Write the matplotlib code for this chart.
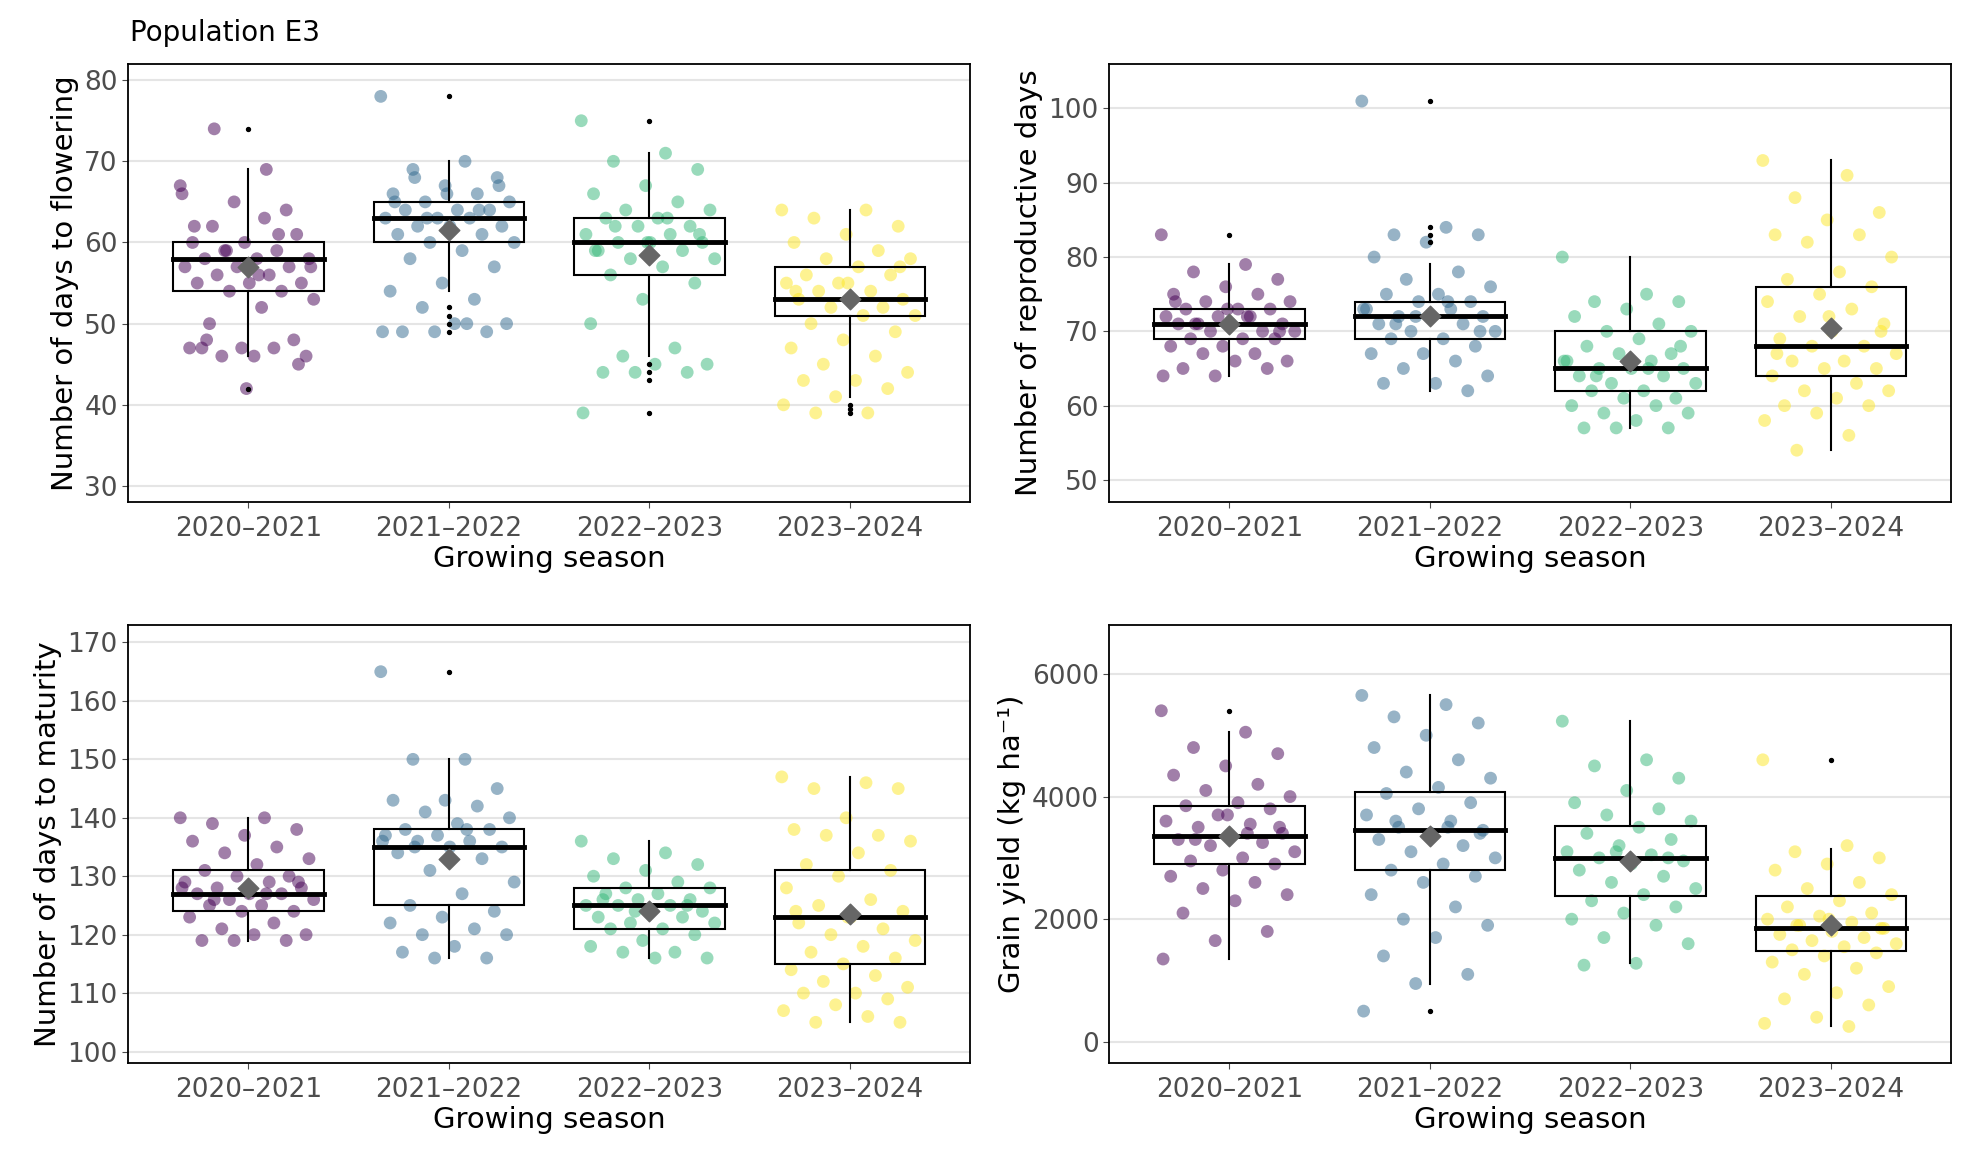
import numpy as np
import matplotlib.pyplot as plt

seasons = ["2020\u20132021", "2021\u20132022", "2022\u20132023", "2023\u20132024"]
colors = ["#440154", "#31688e", "#35b779", "#fde725"]

# ---- point values ----
flower_pts = [
    [67, 63, 62, 61, 60, 60, 59, 59, 58, 58, 58, 57, 57, 57, 56, 56, 55, 55, 55, 54, 54, 53, 52, 50, 48, 47, 47, 47, 46, 46, 46, 47, 64, 65, 66, 69, 74, 45, 42, 62, 61, 59, 57, 56, 48],
    [78, 70, 69, 68, 67, 66, 66, 65, 65, 64, 64, 64, 63, 63, 63, 62, 62, 62, 61, 61, 60, 60, 59, 58, 57, 55, 54, 53, 52, 50, 50, 49, 49, 49, 49, 50, 68, 67, 66, 65, 64, 63],
    [75, 71, 70, 69, 67, 66, 65, 64, 64, 63, 63, 62, 62, 61, 61, 60, 60, 60, 59, 59, 58, 58, 57, 56, 55, 53, 50, 47, 46, 45, 45, 44, 44, 44, 39, 63, 62, 61, 60, 59],
    [64, 64, 63, 62, 61, 60, 59, 58, 58, 57, 56, 56, 55, 55, 54, 54, 53, 53, 53, 52, 52, 51, 51, 50, 49, 48, 47, 46, 45, 44, 43, 43, 42, 41, 40, 39, 39, 57, 55, 54],
]
flower_box = [  # whisker low, q1, median, q3, whisker high, mean
    [46, 54, 58, 60, 69, 57], [54, 60, 63, 65, 70, 61.5],
    [46, 56, 60, 63, 71, 58.5], [41, 51, 53, 57, 64, 53]]
flower_out = [[74, 42], [78, 52, 51, 50, 49], [75, 45, 44, 43, 39], [40, 39.5, 39]]

repro_pts = [
    [83, 79, 78, 77, 76, 75, 75, 74, 74, 73, 73, 73, 72, 72, 72, 71, 71, 71, 71, 70, 70, 70, 69, 69, 69, 68, 68, 67, 67, 66, 66, 65, 65, 64, 64, 72, 71, 70, 73, 74],
    [101, 84, 83, 83, 82, 80, 78, 77, 76, 75, 75, 74, 74, 73, 73, 72, 72, 72, 71, 71, 70, 70, 69, 69, 68, 67, 67, 66, 65, 64, 63, 63, 62, 72, 73, 74, 71, 70],
    [80, 75, 74, 74, 73, 72, 71, 70, 70, 69, 68, 67, 67, 66, 66, 65, 65, 65, 64, 64, 63, 63, 62, 62, 61, 61, 60, 60, 59, 59, 58, 57, 57, 57, 66, 65, 64, 68],
    [93, 91, 88, 86, 85, 83, 83, 82, 80, 78, 77, 76, 75, 74, 73, 72, 71, 70, 69, 68, 68, 67, 66, 66, 65, 65, 64, 63, 62, 62, 61, 60, 60, 59, 58, 56, 54, 70, 72, 67],
]
repro_box = [
    [64, 69, 71, 73, 79, 71], [62, 69, 72, 74, 79, 72],
    [57, 62, 65, 70, 80, 66], [54, 64, 68, 76, 93, 70.5]]
repro_out = [[83], [101, 84, 83, 82], [], []]

mat_pts = [
    [140, 140, 139, 138, 137, 136, 135, 134, 133, 132, 131, 130, 130, 129, 129, 128, 128, 127, 127, 127, 126, 126, 125, 125, 124, 124, 123, 122, 121, 120, 120, 119, 119, 119, 128, 127, 126, 129],
    [165, 150, 150, 145, 143, 143, 142, 141, 140, 139, 138, 138, 137, 137, 136, 136, 135, 135, 134, 133, 131, 129, 127, 125, 124, 123, 122, 121, 120, 120, 118, 117, 116, 116, 136, 138, 135],
    [136, 134, 133, 132, 131, 130, 129, 128, 128, 127, 127, 126, 126, 125, 125, 125, 124, 124, 123, 123, 122, 122, 121, 121, 120, 119, 118, 117, 117, 116, 116, 126, 125, 124],
    [147, 146, 145, 145, 140, 138, 137, 137, 136, 134, 132, 131, 130, 128, 126, 125, 124, 123, 122, 121, 120, 119, 118, 117, 116, 115, 114, 113, 112, 111, 110, 110, 109, 108, 107, 106, 105, 105, 123, 124],
]
mat_box = [
    [119, 124, 127, 131, 140, 128], [116, 125, 135, 138, 150, 133],
    [116, 121, 125, 128, 136, 124], [105, 115, 123, 131, 147, 123.5]]
mat_out = [[], [165], [], []]

yield_pts = [
    [5400, 5050, 4800, 4700, 4500, 4350, 4200, 4100, 4000, 3900, 3850, 3800, 3700, 3600, 3550, 3500, 3400, 3350, 3300, 3250, 3200, 3100, 3000, 2950, 2900, 2800, 2700, 2600, 2500, 2400, 2300, 2100, 1800, 1650, 1350, 3400, 3300, 3500, 3700],
    [5650, 5500, 5300, 5200, 5000, 4800, 4600, 4400, 4300, 4150, 4050, 3900, 3800, 3700, 3600, 3500, 3450, 3400, 3300, 3200, 3100, 3000, 2900, 2800, 2700, 2600, 2400, 2200, 2000, 1900, 1700, 1400, 1100, 950, 500, 3500, 3600, 3400],
    [5230, 4600, 4500, 4300, 4100, 3900, 3800, 3700, 3600, 3500, 3400, 3300, 3200, 3100, 3050, 3000, 2950, 2900, 2800, 2700, 2600, 2500, 2400, 2300, 2200, 2100, 2000, 1900, 1700, 1600, 1280, 1250, 3000, 3100],
    [4600, 3200, 3100, 3000, 2900, 2800, 2600, 2500, 2400, 2300, 2200, 2100, 2050, 2000, 1950, 1900, 1850, 1800, 1750, 1700, 1650, 1600, 1550, 1500, 1450, 1400, 1300, 1200, 1100, 900, 800, 700, 600, 400, 300, 250, 1900, 1850, 2000],
]
yield_box = [
    [1350, 2900, 3350, 3850, 5050, 3350], [950, 2800, 3450, 4080, 5650, 3350],
    [1280, 2380, 3000, 3520, 5230, 2950], [250, 1480, 1850, 2380, 3150, 1900]]
yield_out = [[5400], [500], [], [4600]]

panels = [
    (flower_pts, flower_box, flower_out, "Number of days to flowering", (28, 82), np.arange(30, 81, 10)),
    (repro_pts, repro_box, repro_out, "Number of reproductive days", (47, 106), np.arange(50, 101, 10)),
    (mat_pts, mat_box, mat_out, "Number of days to maturity", (98, 173), np.arange(100, 171, 10)),
    (yield_pts, yield_box, yield_out, "Grain yield (kg ha\u207b\u00b9)", (-350, 6800), np.arange(0, 6001, 2000)),
]

fig, axes = plt.subplots(2, 2, figsize=(19.71, 11.62), dpi=100)
plt.subplots_adjust(left=0.065, right=0.99, top=0.945, bottom=0.085, wspace=0.165, hspace=0.28)

for ax, (pts, box, out, ylab, ylim, ticks) in zip(axes.flat, panels):
    for i, (vals, b, o) in enumerate(zip(pts, box, out)):
        n = len(vals)
        jit = ((np.arange(n) * 0.6180339) % 1 - 0.5) * 0.68
        ax.scatter(i + jit, vals, s=85, color=colors[i], alpha=0.5, edgecolors="none", zorder=2)
        wl, q1, med, q3, wh, mean = b
        ax.plot([i, i], [wl, q1], color="black", lw=1.5, zorder=3)
        ax.plot([i, i], [q3, wh], color="black", lw=1.5, zorder=3)
        ax.add_patch(plt.Rectangle((i - 0.375, q1), 0.75, q3 - q1, fill=False,
                                   edgecolor="black", lw=1.5, zorder=3))
        ax.plot([i - 0.375, i + 0.375], [med, med], color="black", lw=3.5, zorder=3)
        ax.scatter([i] * len(o), o, s=8, color="black", zorder=4)
        ax.scatter([i], [mean], marker="D", s=110, color="#666666", zorder=5)
    ax.set_xlim(-0.6, 3.6)
    ax.set_ylim(*ylim)
    ax.set_yticks(ticks)
    ax.set_xticks(range(4))
    ax.set_xticklabels(seasons)
    ax.tick_params(labelsize=19, colors="#4d4d4d", length=4)
    ax.tick_params(axis="x", pad=6)
    ax.set_ylabel(ylab, fontsize=21)
    ax.set_xlabel("Growing season", fontsize=21, labelpad=2)
    ax.yaxis.grid(True, color="#e5e5e5", lw=1.5)
    ax.set_axisbelow(True)
    for s in ax.spines.values():
        s.set_linewidth(1.3)

fig.text(0.066, 0.965, "Population E3", fontsize=20)
fig.savefig("out.png")
